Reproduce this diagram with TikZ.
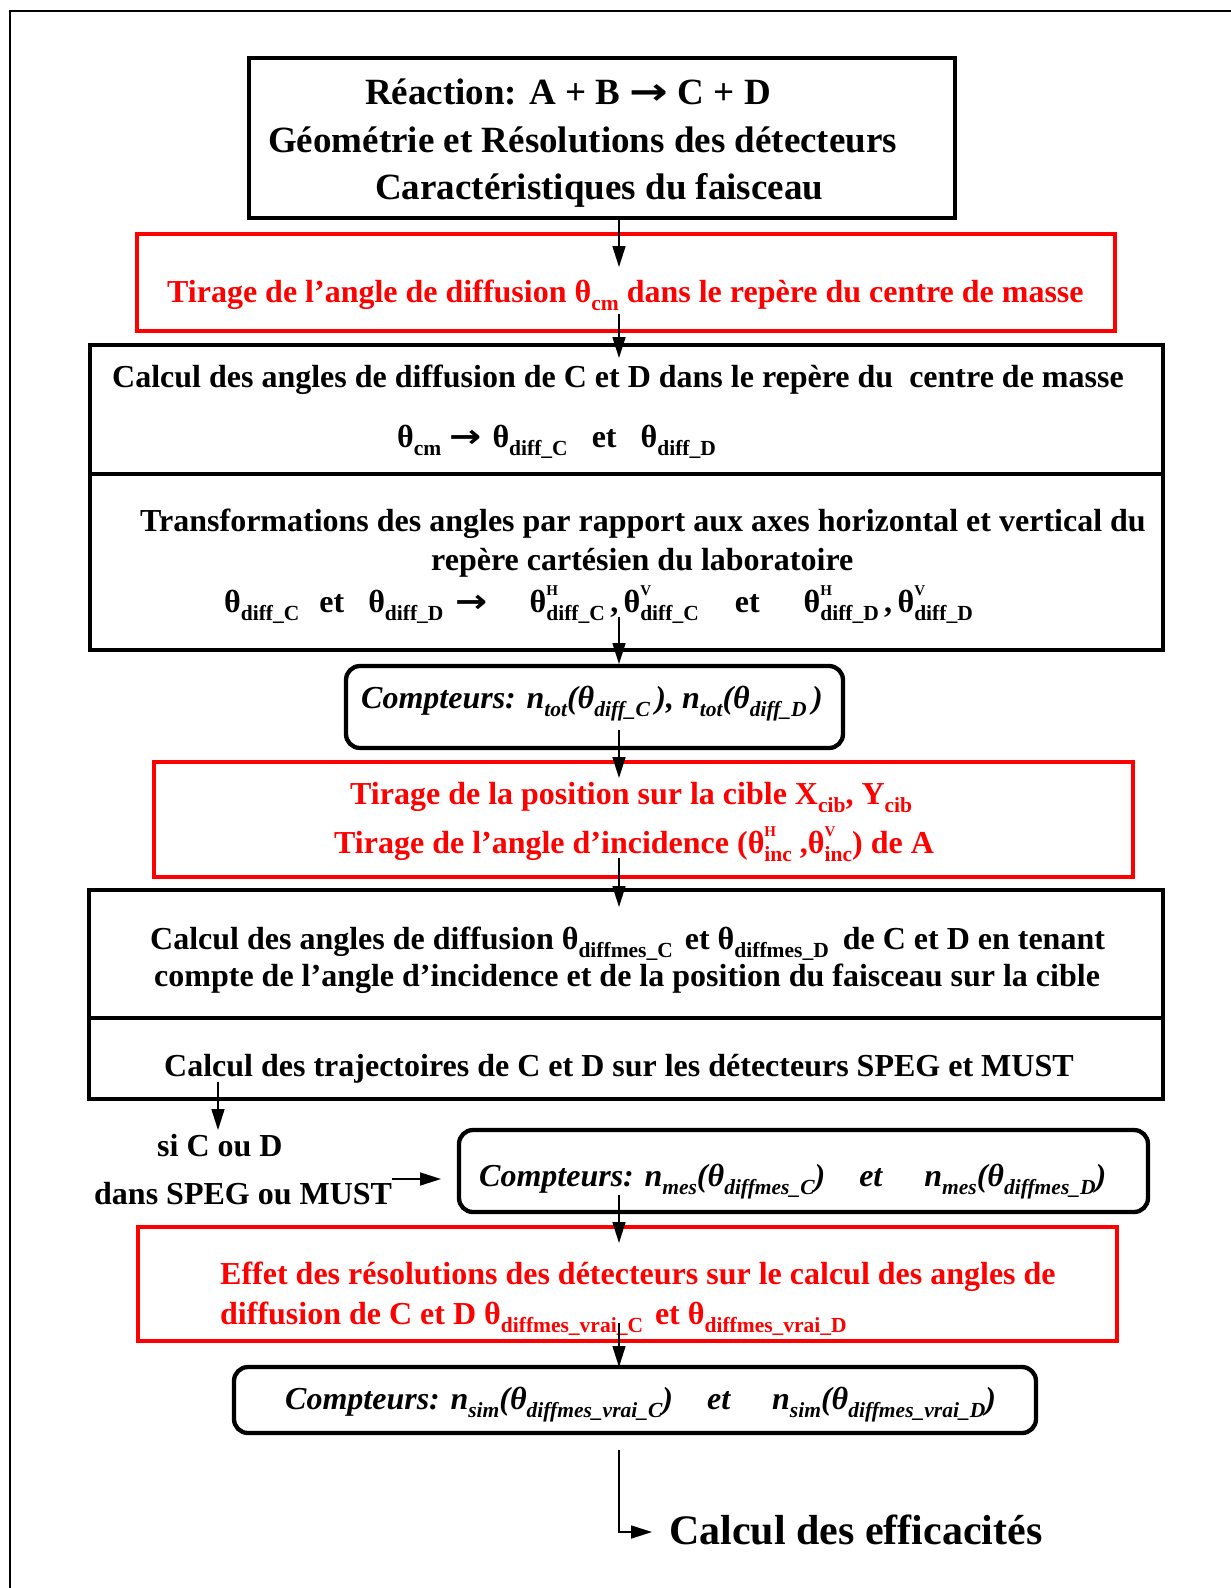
\documentclass[tikz,border=0pt]{standalone}
\usepackage{fontspec}
\setmainfont{Liberation Serif}
\newfontfamily\arrfont{DejaVu Sans}
\usetikzlibrary{arrows.meta}
\definecolor{boxred}{RGB}{255,0,0}
\newcommand\lsb[1]{\raisebox{-0.28em}{\fontsize{21.5}{22}\selectfont #1}}
\newcommand\lsp[2]{\rlap{\raisebox{0.52em}{\fontsize{15}{15}\selectfont #1}}\raisebox{-0.28em}{\fontsize{21.5}{22}\selectfont #2}}
\newcommand\rarr[1]{\scalebox{#1}[1]{\arrfont\bfseries →}}
\begin{document}
\begin{tikzpicture}[x=1pt,y=-1pt,
  box/.style={draw, line width=4.3pt, inner sep=0pt},
  rbox/.style={draw=boxred, line width=4.3pt, inner sep=0pt},
  cbox/.style={draw, line width=4.3pt, rounded corners=14pt, inner sep=0pt},
  txt/.style={anchor=base west, inner sep=0pt, font=\bfseries\fontsize{32}{38}\selectfont},
  rtxt/.style={txt, text=boxred},
  itxt/.style={anchor=base west, inner sep=0pt, font=\bfseries\itshape\fontsize{32}{38}\selectfont},
  bigtxt/.style={anchor=base west, inner sep=0pt, font=\bfseries\fontsize{37}{44}\selectfont},
  arr/.style={line width=1.6pt, -{Triangle[length=21pt,width=13pt]}},
  frame/.style={line width=2pt}]
\useasboundingbox (0,0) rectangle (1231,1588);
% outer frame (partially visible)
\coordinate (fbl) at (10,1588);
\coordinate (ftl) at (10,11);
\coordinate (ftr) at (1231,11);
\draw[frame] (fbl) -- (ftl) -- (ftr);
% boxes
\node[box, minimum width=706pt, minimum height=160pt] (b1) at (602,138) {};
\node[rbox, minimum width=978pt, minimum height=97pt] (r2) at (626,282.5) {};
\node[box, minimum width=1073pt, minimum height=129pt] (b3) at (626.5,409.5) {};
\node[box, minimum width=1073pt, minimum height=176pt] (b4) at (626.5,562) {};
\node[cbox, minimum width=497pt, minimum height=82pt] (b5) at (594.5,707) {};
\node[rbox, minimum width=979pt, minimum height=115pt] (r6) at (643.5,819.5) {};
\node[box, minimum width=1074pt, minimum height=128pt] (b7) at (626,954) {};
\node[box, minimum width=1074pt, minimum height=81pt] (b7b) at (626,1058.5) {};
\node[cbox, minimum width=689pt, minimum height=82pt] (b8) at (803.5,1171) {};
\node[rbox, minimum width=979pt, minimum height=114pt] (r9) at (627.5,1284) {};
\node[cbox, minimum width=802pt, minimum height=66pt] (b10) at (635,1400) {};
% texts
\node[bigtxt] (t1a) at (365,104) {Réaction: A + B \rarr{1.25} C + D};
\node[bigtxt] (t1b) at (268,152) {Géométrie et Résolutions des détecteurs};
\node[bigtxt] (t1c) at (375,199) {Caractéristiques du faisceau};
\node[rtxt] (t2) at (167,302) {Tirage de l’angle de diffusion θ\lsb{cm} dans le repère du centre de masse};
\node[txt] (t3a) at (112,387) {Calcul des angles de diffusion de C et D dans le repère du\ \ centre de masse};
\node[txt] (t3b) at (397,447) {θ\lsb{cm} \rarr{1.2} \hspace{3pt}θ\lsb{diff\_C}\hspace{24pt}et\hspace{24pt}θ\lsb{diff\_D}};
\node[txt] (t4a) at (140,531) {Transformations des angles par rapport aux axes horizontal et vertical du};
\node[txt] (t4b) at (431,570) {repère cartésien du laboratoire};
\node[txt] (t4c) at (224,612) {θ\lsb{diff\_C}\hspace{20pt}et\hspace{24pt}θ\lsb{diff\_D}\hspace{12pt}\rarr{1.2}\hspace{42pt}θ\lsp{H}{diff\_C}\,,\,θ\lsp{V}{diff\_C}\hspace{36pt}et\hspace{44pt}θ\lsp{H}{diff\_D}\,,\,θ\lsp{V}{diff\_D}};
\node[itxt] (t5) at (361,708) {Compteurs: n\lsb{tot}(θ\lsb{diff\_C}\,), n\lsb{tot}(θ\lsb{diff\_D}\,)};
\node[rtxt] (t6a) at (350,804) {Tirage de la position sur la cible X\lsb{cib}, Y\lsb{cib}};
\node[rtxt] (t6b) at (334,853) {Tirage de l’angle d’incidence (θ\lsp{H}{inc} ,θ\lsp{V}{inc}) de A};
\node[txt] (t7a) at (150,949) {Calcul des angles de diffusion θ\lsb{diffmes\_C}\hspace{12pt}et θ\lsb{diffmes\_D}\hspace{14pt}de C et D en tenant};
\node[txt] (t7b) at (154,986) {compte de l’angle d’incidence et de la position du faisceau sur la cible};
\node[txt] (t7c) at (164,1076) {Calcul des trajectoires de C et D sur les détecteurs SPEG et MUST};
\node[txt] (s1) at (157,1156) {si C ou D};
\node[txt] (s2) at (94,1204) {dans SPEG ou MUST};
\node[itxt] (t8) at (479,1186) {Compteurs: n\lsb{mes}(θ\lsb{diffmes\_C})\hspace{34pt}et\hspace{42pt}n\lsb{mes}(θ\lsb{diffmes\_D})};
\node[rtxt] (t9a) at (220,1284) {Effet des résolutions des détecteurs sur le calcul des angles de};
\node[rtxt] (t9b) at (220,1324) {diffusion de C et D θ\lsb{diffmes\_vrai\_C}\hspace{12pt}et θ\lsb{diffmes\_vrai\_D}};
\node[itxt] (t10) at (285,1409) {Compteurs: n\lsb{sim}(θ\lsb{diffmes\_vrai\_C})\hspace{34pt}et\hspace{42pt}n\lsb{sim}(θ\lsb{diffmes\_vrai\_D})};
\node[anchor=base west, inner sep=0pt, font=\bfseries\fontsize{42}{50}\selectfont] (t11) at (669,1544) {Calcul des efficacités};
% arrow end points
\coordinate (a1e) at (619,267);
\coordinate (a2s) at (619,314);
\coordinate (a2e) at (619,358);
\coordinate (a3s) at (619,617);
\coordinate (a3e) at (619,664);
\coordinate (a4s) at (619,730);
\coordinate (a4e) at (619,778);
\coordinate (a5s) at (619,858);
\coordinate (a5e) at (619,907);
\coordinate (a6s) at (218,1082);
\coordinate (a6e) at (218,1130);
\coordinate (a7s) at (392,1179);
\coordinate (a7e) at (441,1179);
\coordinate (a8s) at (619,1195);
\coordinate (a8e) at (619,1243);
\coordinate (a9s) at (619,1323);
\coordinate (a9e) at (619,1367);
\coordinate (a10s) at (619,1450);
\coordinate (a10c) at (619,1532);
\coordinate (a10e) at (652,1532);
% connectors
\draw[arr] (b1.south -| a1e) -- (a1e);
\draw[arr] (a2s) -- (a2e);
\draw[arr] (a3s) -- (a3e);
\draw[arr] (a4s) -- (a4e);
\draw[arr] (a5s) -- (a5e);
\draw[arr] (a6s) -- (a6e);
\draw[arr] (a7s) -- (a7e);
\draw[arr] (a8s) -- (a8e);
\draw[arr] (a9s) -- (a9e);
\draw[arr] (a10s) -- (a10c) -- (a10e);
\end{tikzpicture}
\end{document}
